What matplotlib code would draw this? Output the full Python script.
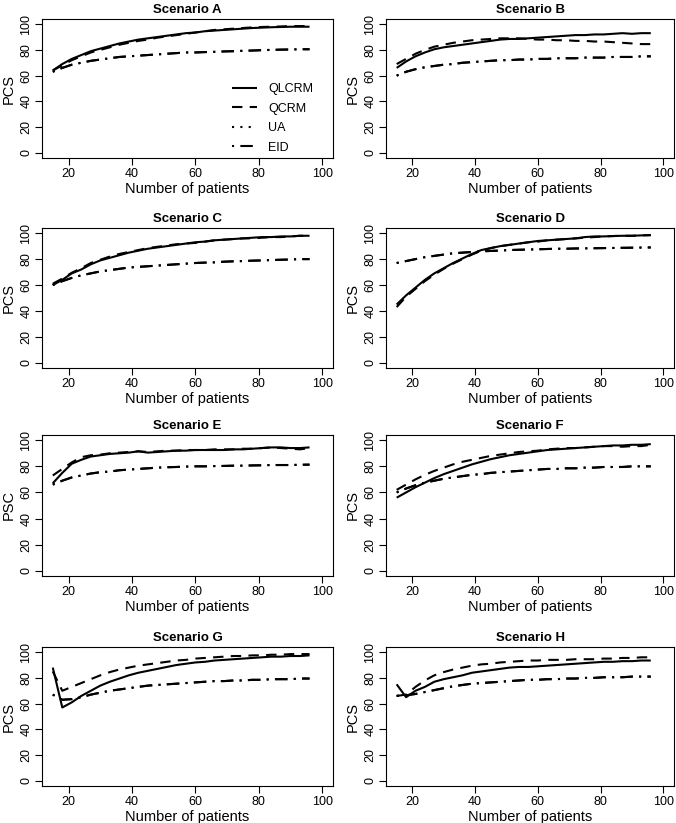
import matplotlib.pyplot as plt
from matplotlib.lines import Line2D

plt.rcParams['font.family'] = ['Liberation Sans', 'DejaVu Sans']

# sample sizes (number of patients)
n = [15, 18, 21, 24, 27, 30, 33, 36, 39, 42, 45, 48, 51, 54, 57, 60, 63, 66, 69, 72,
     75, 78, 81, 84, 87, 90, 93, 96]

methods = ['QLCRM', 'QCRM', 'UA', 'EID']

# PCS values
A_qlcrm = [64, 69, 73, 76, 79, 81, 83, 85, 86.5, 88, 89, 90, 91, 92, 93, 93.5, 94.5, 95, 95.5, 96,
           96.5, 97, 97.3, 97.6, 97.8, 98, 98, 98]
A_qcrm = [64, 68, 72, 75, 78, 80, 82, 84, 85.5, 87, 88, 89.5, 90.5, 91.5, 92.5, 93.5, 94.5, 95.5, 96, 96.5,
          97, 97.5, 97.8, 98, 98.2, 98.5, 98.5, 98.5]
A_eid = [63, 66, 68.5, 70, 71.5, 72.5, 73.5, 74.5, 75, 75.5, 76, 76.5, 77, 77.5, 78, 78, 78.3, 78.5, 78.8, 79,
         79.3, 79.5, 79.8, 80, 80.2, 80.3, 80.5, 80.5]

B_qlcrm = [66, 71, 75, 78, 80.5, 82, 83, 84, 85, 86, 87, 88, 88.5, 88.5, 89, 89.5, 90, 90.5, 91, 91.5,
           91.5, 92, 92, 92.5, 93, 92.5, 93, 93]
B_qcrm = [69, 73, 77, 80, 82.5, 84, 85.5, 86.5, 87.5, 88, 88.5, 89, 89, 89, 88.5, 88, 88, 87.5, 87.5, 87,
          87, 86.5, 86.5, 86, 85.5, 85, 84.5, 84.5]
B_eid = [60, 63, 65, 66.5, 67.5, 68.5, 69, 70, 70.5, 71, 71.5, 72, 72, 72.5, 72.5, 73, 73, 73.5, 73.5, 73.5,
         74, 74, 74, 74.5, 74.5, 74.5, 75, 75]

C_qlcrm = [60, 64, 69, 72, 76, 79, 81, 83, 85, 86.5, 88, 89, 90, 91, 92, 93, 93.5, 94.5, 95, 95.5,
           96, 96.5, 97, 97, 97.5, 97.5, 98, 98]
C_qcrm = [61, 65, 69.5, 73, 77, 79.5, 82, 84, 85.5, 87, 88.5, 89.5, 90.5, 91.5, 92, 92.5, 93.5, 94.5, 95, 95.5,
          96, 96, 96.5, 97, 97, 97.5, 98, 98]
C_eid = [60, 63, 65.5, 67.5, 69, 70.5, 71.5, 72.5, 73.5, 74, 74.5, 75, 75.5, 76, 76.5, 77, 77.3, 77.5, 78, 78.3,
         78.5, 78.8, 79, 79.3, 79.5, 79.7, 80, 80]

D_qlcrm = [45, 52, 58, 64, 69, 73, 77, 80.5, 84, 87, 88.5, 90, 91, 92, 93, 94, 94.5, 95, 95.5, 96,
           97, 97.5, 97.5, 97.8, 98, 98, 98.3, 98.5]
D_qcrm = [43, 51, 57, 63, 68, 72.5, 76.5, 80, 83.5, 86.5, 88.5, 90, 91, 92, 93, 93.5, 94.5, 95, 95.5, 96,
          96.5, 97, 97.5, 97.8, 98, 98, 98.3, 98.5]
D_eid = [77, 78.5, 80, 81.5, 82.5, 83.5, 84.5, 85, 85.5, 86, 86.3, 86.6, 87, 87.2, 87.4, 87.6, 87.8, 88, 88, 88.2,
         88.3, 88.4, 88.5, 88.6, 88.7, 88.8, 88.9, 89]

E_qlcrm = [67, 75, 82, 85, 87.5, 88.5, 89.5, 90, 90.5, 91.5, 90.5, 91, 91.5, 92, 92, 92.5, 92.5, 92.5, 92.5, 93,
           93, 93.5, 94, 94.5, 94.5, 94, 94, 94.5]
E_qcrm = [73, 78, 83, 87, 88.5, 89, 90, 90.5, 91, 91.5, 91, 91.5, 92, 92, 92.5, 92.5, 92.5, 93, 93, 93,
          93.5, 93.5, 94, 94.5, 94, 93.5, 93, 94]
E_eid = [66, 69, 71.5, 73, 74.5, 75.5, 76, 77, 77.5, 78, 78.5, 79, 79.3, 79.5, 79.8, 80, 80, 80.2, 80.3, 80.5,
         80.5, 80.7, 80.8, 81, 81, 81, 81.2, 81.3]

F_qlcrm = [56, 60, 64, 67.5, 71, 74, 76.5, 79, 81.5, 83.5, 85.5, 87, 88.5, 89.5, 90.5, 91.5, 92.5, 93, 93.5, 94,
           94.5, 95, 95.5, 96, 96, 96.5, 96.5, 97]
F_qcrm = [62, 66, 70, 73.5, 76.5, 79, 81.5, 83.5, 85, 86.5, 88, 89, 90, 91, 91.5, 92, 93, 93.5, 94, 94,
          94.5, 95, 95.5, 95.5, 95, 95.5, 95.5, 96.5]
F_eid = [60, 63, 65.5, 67.5, 69, 70.5, 71.5, 72.5, 73.5, 74, 75, 75.5, 76, 76.5, 77, 77.5, 78, 78, 78.5, 78.5,
         79, 79, 79.5, 79.5, 79.5, 80, 80, 80]

G_qlcrm = [88, 57, 61, 66, 70, 74, 77, 79.5, 82, 84, 85.5, 87, 88.5, 90, 91, 92, 92.5, 93.5, 94, 94.5,
           95, 95.5, 96, 96.5, 96.5, 97, 97, 97.5]
G_qcrm = [85, 70, 73, 76, 79, 82, 84.5, 86.5, 88, 89.5, 90.5, 91.5, 92.5, 93.5, 94, 95, 95.5, 96, 96.5, 97,
          97, 97.5, 97.5, 98, 98, 98.5, 98.5, 98.5]
G_eid = [67, 63, 63.5, 65, 67, 68.5, 70, 71, 72, 73, 74, 74.5, 75, 75.5, 76, 76.5, 77, 77.5, 77.5, 78,
         78, 78.5, 78.5, 79, 79, 79, 79.5, 79.5]

H_qlcrm = [75, 65, 70, 73, 77, 79, 80.5, 82, 84, 85, 86, 87, 88, 88.5, 88.5, 89, 89.5, 90, 90.5, 91,
           91.5, 92, 92.5, 92.5, 93, 93, 93.5, 93.5]
H_qcrm = [66, 67, 73, 78, 82, 84.5, 86.5, 88, 89.5, 90.5, 91, 92, 92.5, 93, 93.5, 93.5, 94, 94, 94, 94.5,
          94.5, 94.5, 95, 95, 95.5, 95.5, 96, 96]
H_eid = [66, 66.5, 67.5, 69, 70.5, 72, 73.5, 74.5, 75.5, 76, 76.5, 77, 77.5, 78, 78.5, 78.5, 79, 79, 79.5, 79.5,
         80, 80, 80.5, 80.5, 80.5, 81, 81, 81]

# UA is not visible on its own in any panel: it sits under EID
panels = [
    ('Scenario A', 'PCS', A_qlcrm, A_qcrm, A_eid, A_eid),
    ('Scenario B', 'PCS', B_qlcrm, B_qcrm, B_eid, B_eid),
    ('Scenario C', 'PCS', C_qlcrm, C_qcrm, C_eid, C_eid),
    ('Scenario D', 'PCS', D_qlcrm, D_qcrm, D_eid, D_eid),
    ('Scenario E', 'PSC', E_qlcrm, E_qcrm, E_eid, E_eid),
    ('Scenario F', 'PCS', F_qlcrm, F_qcrm, F_eid, F_eid),
    ('Scenario G', 'PCS', G_qlcrm, G_qcrm, G_eid, G_eid),
    ('Scenario H', 'PCS', H_qlcrm, H_qcrm, H_eid, H_eid),
]

W, H = 676, 823
fig = plt.figure(figsize=(W / 100, H / 100), dpi=100)

cols = [(42, 333), (386, 674)]
rows = [(19, 158), (228, 368), (435, 576), (647, 786)]

styles = {
    'QLCRM': (0, ()),
    'QCRM': (0, (5, 3.5)),
    'UA': (0, (1, 3)),
    'EID': (0, (1, 3, 6, 3)),
}

for i, (title, ylab, ql, qc, ua, eid) in enumerate(panels):
    x0, x1 = cols[i % 2]
    y0, y1 = rows[i // 2]
    ax = fig.add_axes([x0 / W, 1 - y1 / H, (x1 - x0) / W, (y1 - y0) / H])
    ax.plot(n, ql, color='black', lw=1.5, linestyle=styles['QLCRM'])
    ax.plot(n, qc, color='black', lw=1.5, linestyle=styles['QCRM'])
    # UA drawn with the EID pattern so it stays hidden underneath it
    ax.plot(n, ua, color='black', lw=1.5, linestyle=styles['EID'])
    ax.plot(n, eid, color='black', lw=1.5, linestyle=styles['EID'])
    ax.set_xlim(11.6, 103.4)
    ax.set_ylim(-4, 104)
    ax.set_xticks([20, 40, 60, 80, 100])
    ax.set_yticks([0, 20, 40, 60, 80, 100])
    ax.tick_params(direction='out', length=5, width=0.8, labelsize=9, pad=2)
    for lab in ax.get_yticklabels():
        lab.set_rotation(90)
        lab.set_va('center')
    ax.set_title(title, fontsize=9.5, fontweight='bold', pad=4)
    ax.set_xlabel('Number of patients', fontsize=10.5, labelpad=2)
    ax.set_ylabel(ylab, fontsize=10.5, labelpad=3)
    for sp in ax.spines.values():
        sp.set_linewidth(0.8)
    if i == 0:
        handles = [Line2D([], [], color='black', lw=1.5, linestyle=styles[m]) for m in methods]
        ax.legend(handles, methods, loc='lower right', frameon=False, fontsize=9,
                  handlelength=2.0, handletextpad=0.9, labelspacing=0.6,
                  bbox_to_anchor=(0.97, -0.05))

fig.savefig('out.png', dpi=100)
